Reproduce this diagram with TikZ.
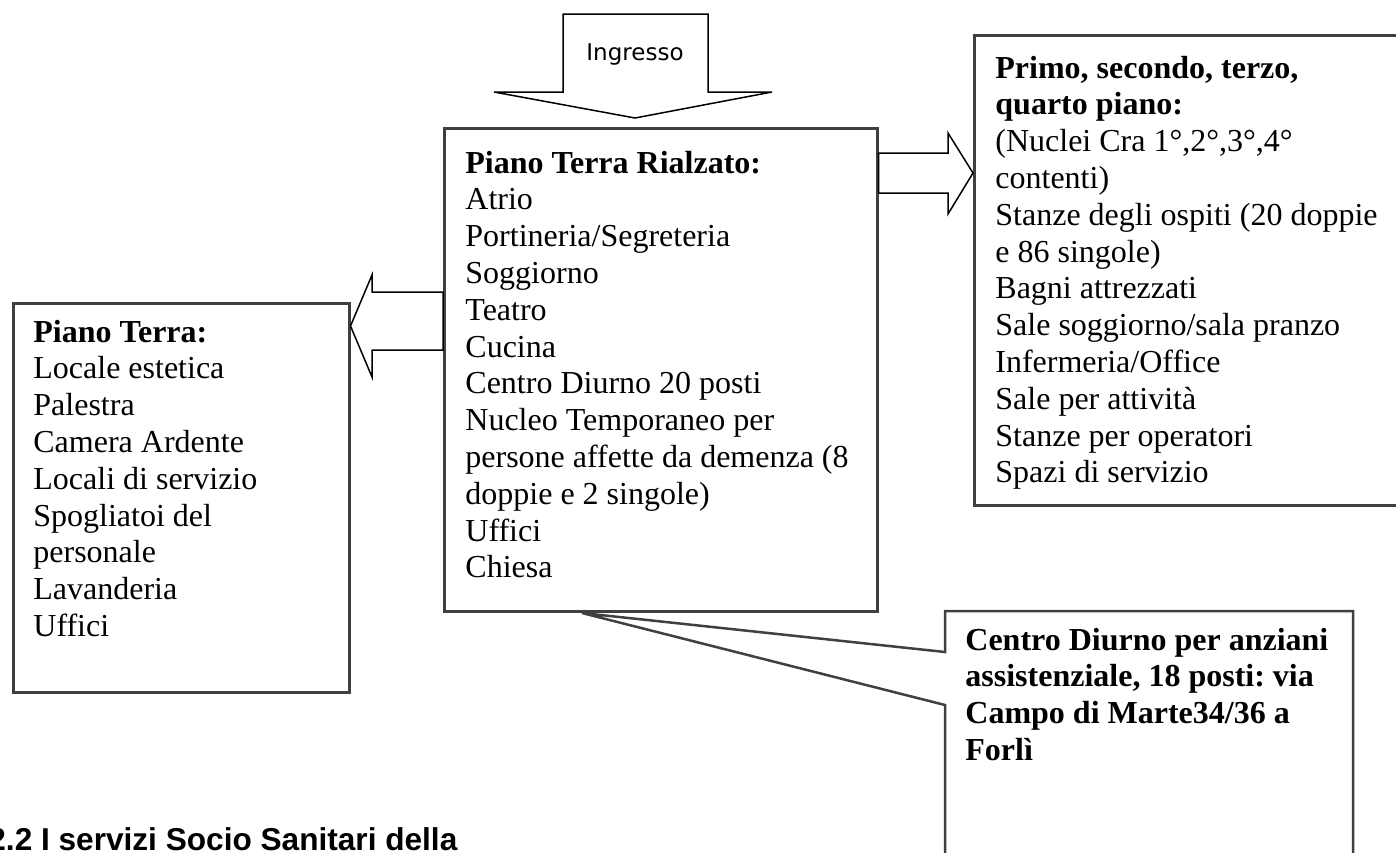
\documentclass[tikz,border=0pt]{standalone}
\usepackage{fontspec}
\setmainfont{Liberation Serif}
\setsansfont{Liberation Sans}
\newfontfamily\ingrfont{DejaVu Sans}
\usepackage{tikz}
\usetikzlibrary{calc}
\usetikzlibrary{positioning}
\definecolor{framegray}{RGB}{64,64,64}
\frenchspacing

\begin{document}
\begin{tikzpicture}
			[
			x=0.5pt, y=-0.5pt,
			font=\fontsize{16}{18.4}\selectfont,
			floor box/.style={draw=framegray,line width=1.25pt,rectangle,inner sep=0,anchor=north west},
			block arrow/.style={draw=black,line width=0.75pt,fill=white},
			callout/.style={draw=framegray,line width=1.25pt},
			room/.style={anchor=base west,inner sep=0}
			]
			\useasboundingbox (0,0) rectangle (1396,852);
			\clip (0,0) rectangle (1396,852);
			
			% The floors
			\node[floor box,minimum width=168pt,minimum height=194.5pt](pt) at (12,302){};
			\node[floor box,minimum width=216.5pt,minimum height=241.5pt](ptr) at (443,127){};
			\node[floor box,minimum width=223.5pt,minimum height=235pt](piani) at (973,34){};
			
			% Ingresso, arrow down
			\draw[block arrow](563,14)--(708,14)--(708,92)--(772,92)--(635,118)--(494,92)--(563,92)--cycle;
			\node[font=\ingrfont\fontsize{11.5}{13}\selectfont,anchor=base,inner sep=0](ingr) at (635,60){Ingresso};
			
			% Arrows to the other floors
			\draw[block arrow](ptr.west|-0,292)--(372,292)--(372,275)--(pt.east|-0,326)--(372,377)--(372,350)--(ptr.west|-0,350)--cycle;
			\draw[block arrow](ptr.east|-0,153)--(948,153)--(948,133)--(piani.west|-0,173)--(948,214)--(948,193)--(ptr.east|-0,193)--cycle;
			
			% Centro Diurno callout
			\coordinate(cd) at (945,611);
			\coordinate(cd tip) at (582,613);
			\draw[callout](cd)--(1353,611)--(1353,880)--(945,880)--(945,705)--(cd tip)--(945,652)--cycle;
			
			% Rooms, one line each
			% Piano Terra
			\foreach \t [count=\i] in {\textbf{Piano Terra:}, Locale estetica, Palestra, Camera Ardente,
				Locali di servizio, Spogliatoi del, personale, Lavanderia, Uffici}
			\node[room](pt-\i) at ($(pt.north west)+(21,{40+36.8*(\i-1)})$){\t};
			% Piano Terra Rialzato
			\foreach \t [count=\i] in {\textbf{Piano Terra Rialzato:}, Atrio, Portineria/Segreteria, Soggiorno,
				Teatro, Cucina, Centro Diurno 20 posti, Nucleo Temporaneo per,
				persone affette da demenza (8, doppie e 2 singole), Uffici, Chiesa}
			\node[room](ptr-\i) at ($(ptr.north west)+(22,{46+36.8*(\i-1)})$){\t};
			% Primo ... quarto piano
			\foreach \t [count=\i] in {\textbf{Primo, secondo, terzo,}, \textbf{quarto piano:},
				{(Nuclei Cra 1°,2°,3°,4°}, contenti), Stanze degli ospiti (20 doppie, e 86 singole),
				Bagni attrezzati, Sale soggiorno/sala pranzo, Infermeria/Office,
				Sale per attività, Stanze per operatori, Spazi di servizio}
			\node[room](piani-\i) at ($(piani.north west)+(22,{44+36.8*(\i-1)})$){\t};
			% Centro Diurno
			\foreach \t [count=\i] in {Centro Diurno per anziani, {assistenziale, 18 posti: via},
				Campo di Marte34/36 a, Forlì}
			\node[room,font=\fontsize{16}{18.4}\selectfont\bfseries](cd-\i) at ($(cd)+(20,{39+36.8*(\i-1)})$){\t};
			
			% Heading below
			\node[room,font=\sffamily\bfseries\fontsize{15.8}{18}\selectfont](titolo) at (-12,850){2.2 I servizi Socio Sanitari della};
\end{tikzpicture}
\end{document}
